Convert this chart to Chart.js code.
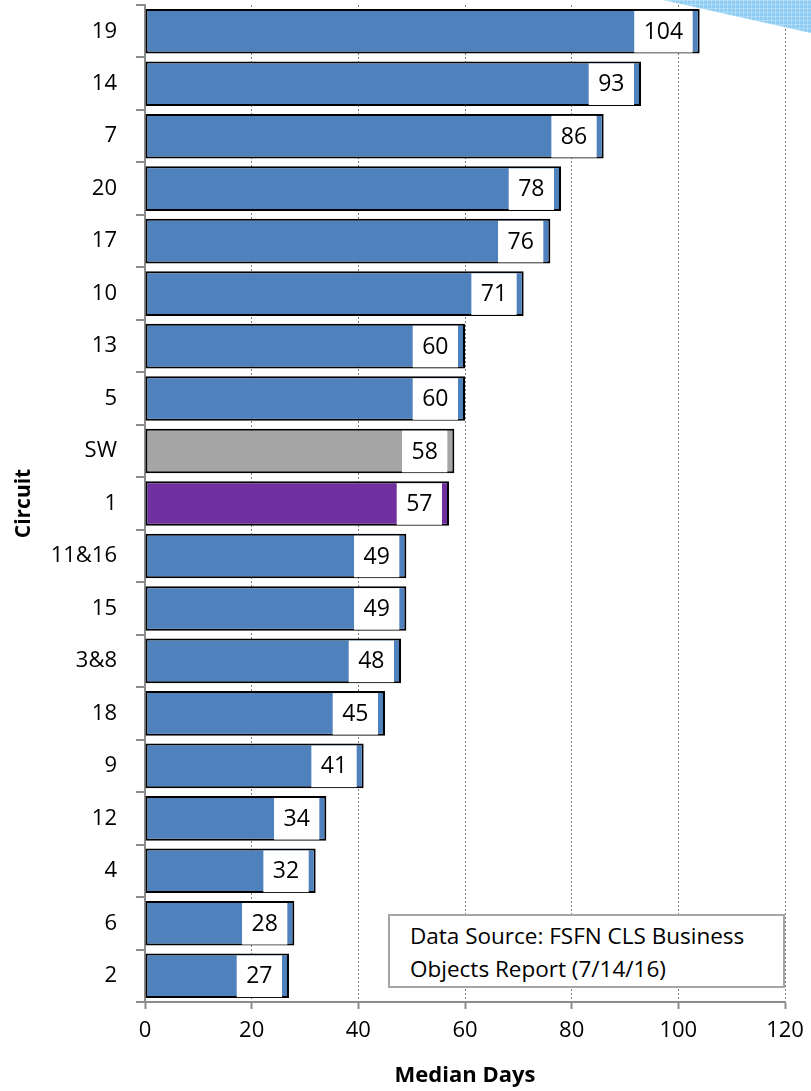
<!DOCTYPE html>
<html>
<head>
<meta charset="utf-8">
<script src="https://cdn.jsdelivr.net/npm/chart.js@4/dist/chart.umd.min.js"></script>
<style>
  html, body { margin: 0; padding: 0; background: #fff; }
  #wrap { position: relative; width: 811px; height: 1091px; }
  #src {
    position: absolute; left: 388px; top: 914px; width: 397px; height: 74px;
    border: 2px solid #a6a6a6; background: #fff;
    font-family: "Open Sans", "Liberation Sans", sans-serif; font-size: 22.5px; color: #000;
    padding: 3px 0 0 20px; box-sizing: border-box; line-height: 33px; white-space: nowrap;
  }
</style>
</head>
<body>
<div id="wrap">
  <canvas id="c" width="811" height="1091"></canvas>
  <div id="src">Data Source: FSFN CLS Business<br>Objects Report (7/14/16)</div>
</div>
<script>
const categories = ['19','14','7','20','17','10','13','5','SW','1','11&16','15','3&8','18','9','12','4','6','2'];
const medianDays = [104,93,86,78,76,71,60,60,58,57,49,49,48,45,41,34,32,28,27];
const xTicks = [0,20,40,60,80,100,120];

const BLUE = '#4f81bd', GRAY = '#a6a6a6', PURPLE = '#7030a0';
const barColors = categories.map(c => c === 'SW' ? GRAY : (c === '1' ? PURPLE : BLUE));
const FONT = '"Open Sans", "Liberation Sans", sans-serif';

const decoPlugin = {
  id: 'deco',
  afterDraw(chart) {
    const ctx = chart.ctx;
    ctx.save();
    ctx.beginPath();
    ctx.moveTo(663, 0); ctx.lineTo(811, 0); ctx.lineTo(811, 33); ctx.closePath();
    ctx.fillStyle = '#8fcdf3';
    ctx.fill();
    ctx.clip();
    ctx.strokeStyle = 'rgba(255,255,255,0.25)';
    ctx.lineWidth = 1;
    for (let x = 663; x < 811; x += 4) { ctx.beginPath(); ctx.moveTo(x + 0.5, 0); ctx.lineTo(x + 0.5, 40); ctx.stroke(); }
    for (let y = 0; y < 40; y += 4) { ctx.beginPath(); ctx.moveTo(660, y + 0.5); ctx.lineTo(811, y + 0.5); ctx.stroke(); }
    ctx.restore();
  }
};

const labelPlugin = {
  id: 'valueLabels',
  afterDatasetsDraw(chart) {
    const ctx = chart.ctx;
    const meta = chart.getDatasetMeta(0);
    ctx.save();
    ctx.font = '23px ' + FONT;
    ctx.textAlign = 'center';
    ctx.textBaseline = 'middle';
    meta.data.forEach((bar, i) => {
      const p = bar.getProps(['x', 'y', 'height'], true);
      const text = String(medianDays[i]);
      const w = ctx.measureText(text).width + 19;
      const right = p.x - 7;
      const top = p.y - p.height / 2 + 2;
      const h = p.height - 3;
      ctx.fillStyle = '#ffffff';
      ctx.fillRect(right - w, top, w, h);
      ctx.fillStyle = '#000000';
      ctx.fillText(text, right - w / 2, p.y + 1);
    });
    ctx.restore();
  }
};

new Chart(document.getElementById('c'), {
  type: 'bar',
  data: {
    labels: categories,
    datasets: [{
      data: medianDays,
      backgroundColor: barColors,
      borderColor: '#000000',
      borderWidth: 2,
      borderSkipped: false,
      barPercentage: 0.85,
      categoryPercentage: 1
    }]
  },
  options: {
    indexAxis: 'y',
    responsive: false,
    animation: false,
    devicePixelRatio: 1,
    layout: { padding: { top: 5, right: 26, left: 0, bottom: 0 } },
    plugins: { legend: { display: false }, tooltip: { enabled: false } },
    scales: {
      x: {
        min: 0, max: 120,
        afterBuildTicks(scale) { scale.ticks = xTicks.map(v => ({ value: v })); },
        afterFit(scale) { scale.height = 89; scale.paddingLeft = 0; scale.paddingRight = 0; },
        ticks: { color: '#000', font: { family: FONT, size: 22 }, padding: 9 },
        grid: {
          color: '#7f7f7f', lineWidth: 1, tickBorderDash: [],
          tickLength: 7, tickColor: '#8c8c8c', tickWidth: 2
        },
        border: { display: true, color: '#8c8c8c', width: 2, dash: [2, 2] },
        title: { display: true, text: 'Median Days', color: '#000', font: { family: FONT, size: 22, weight: 'bold' }, padding: { top: 4, bottom: 2 } }
      },
      y: {
        afterFit(scale) { scale.width = 145; scale.paddingTop = 0; scale.paddingBottom = 0; },
        ticks: { color: '#000', font: { family: FONT, size: 22 }, padding: 19 },
        grid: { display: true, drawOnChartArea: false, offset: true, tickLength: 9, color: '#8c8c8c', lineWidth: 2 },
        border: { display: true, color: '#8c8c8c', width: 2 },
        title: { display: true, text: 'Circuit', color: '#000', font: { family: FONT, size: 21, weight: 'bold' }, padding: { top: 11, bottom: 0 } }
      }
    }
  },
  plugins: [labelPlugin, decoPlugin]
});
</script>
</body>
</html>
